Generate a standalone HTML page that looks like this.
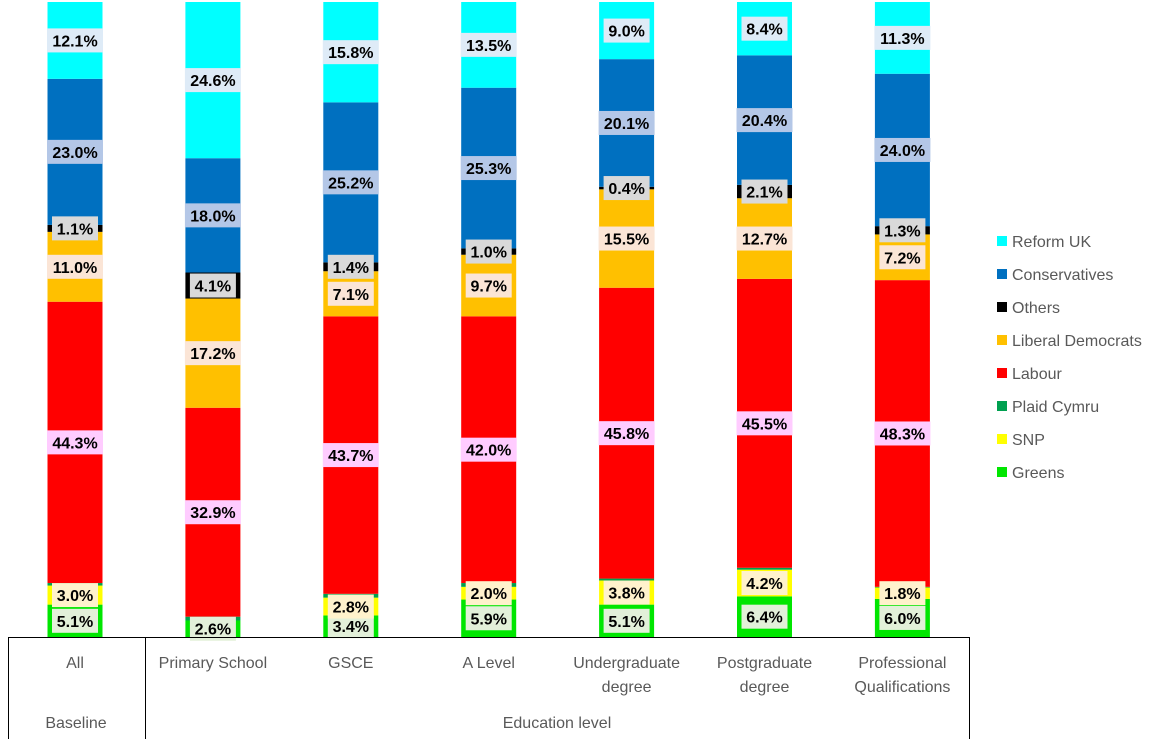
<!DOCTYPE html>
<html><head><meta charset="utf-8"><style>
body{margin:0;background:#fff;}
svg text{font-family:"Liberation Sans",Arial,sans-serif;}
</style></head><body>
<svg id="c" width="1161" height="739" xmlns="http://www.w3.org/2000/svg">
<g id="bars"></g>
<g id="axis">
<line x1="8" y1="637.5" x2="969" y2="637.5" stroke="#000"/>
<line x1="8.5" y1="637" x2="8.5" y2="739" stroke="#000"/>
<line x1="145.5" y1="637" x2="145.5" y2="739" stroke="#000"/>
<line x1="969.5" y1="637" x2="969.5" y2="739" stroke="#000"/>
<text x="76" y="728" font-size="16" fill="#595959" text-anchor="middle">Baseline</text>
<text x="557" y="728" font-size="16" fill="#595959" text-anchor="middle">Education level</text>
</g>
<g id="legend"></g>
</svg>
<script>
const categories=[["All"],["Primary School"],["GSCE"],["A Level"],["Undergraduate","degree"],["Postgraduate","degree"],["Professional","Qualifications"]];
const seriesNames=["Greens","SNP","Plaid Cymru","Labour","Liberal Democrats","Others","Conservatives","Reform UK"];
const greens=[5.1,2.6,3.4,5.9,5.1,6.4,6.0];
const snp=[3.0,0,2.8,2.0,3.8,4.2,1.8];
const plaid=[0.4,0.6,0.6,0.6,0.3,0.3,0.1];
const labour=[44.3,32.9,43.7,42.0,45.8,45.5,48.3];
const libdem=[11.0,17.2,7.1,9.7,15.5,12.7,7.2];
const others=[1.1,4.1,1.4,1.0,0.4,2.1,1.3];
const conservatives=[23.0,18.0,25.2,25.3,20.1,20.4,24.0];
const reform=[12.1,24.6,15.8,13.5,9.0,8.4,11.3];
const series=[greens,snp,plaid,labour,libdem,others,conservatives,reform];
const colors=["#00e600","#ffff00","#00a050","#ff0000","#ffc000","#000000","#0070c0","#00ffff"];
const labelBg=["#e2f0d9","#fff2cc",null,"#ffccff","#fbe5d6","#d9d9d9","#b4c7e7","#deebf7"];
const showLabel=[true,true,false,true,true,true,true,true];
const NS="http://www.w3.org/2000/svg";
const y0=637,pxPer=6.35,x0=75,step=137.9,bw=55;
const xScale=i=>x0+i*step;
const yScale=v=>y0-v*pxPer;
const gb=document.getElementById('bars');
function mk(t,a){const e=document.createElementNS(NS,t);for(const k in a)e.setAttribute(k,a[k]);return e;}
categories.forEach((cat,i)=>{
  let cum=0;const cx=xScale(i);
  const labels=[];
  series.forEach((s,j)=>{
    const v=s[i];const yt=yScale(cum+v),yb=yScale(cum);
    if(v>0){
      const r=mk('rect',{x:cx-bw/2,y:yt,width:bw,height:yb-yt,fill:colors[j]});
      
      
      gb.appendChild(r);
      if(showLabel[j]) labels.push([j,v,(yt+yb)/2]);
    }
    cum+=v;
  });
  labels.forEach(([j,v,cy])=>{
    const txt=v.toFixed(1)+'%';
    const w=txt.length>4?56:46;
    const bg=mk('rect',{x:cx-w/2,y:cy-12,width:w,height:24,fill:labelBg[j]});
    
    
    gb.appendChild(bg);
    const t=mk('text',{x:cx,y:cy+6,'font-size':16,'font-weight':'bold','text-anchor':'middle',fill:'#000'});
    t.textContent=txt;
    
    
    gb.appendChild(t);
  });
  const ax=document.getElementById('axis');
  cat.forEach((ln,k)=>{
    const t=mk('text',{x:cx,y:668+k*24,'font-size':16,fill:'#595959','text-anchor':'middle'});
    t.textContent=ln;
    
    
    ax.appendChild(t);
  });
});
const lg=document.getElementById('legend');
const legOrder=[7,6,5,4,3,2,1,0];
legOrder.forEach((j,k)=>{
  const y=241+k*33;
  const r=mk('rect',{x:997,y:y-5,width:10,height:10,fill:colors[j]});
  
  
  lg.appendChild(r);
  const t=mk('text',{x:1012,y:y+6,'font-size':16,fill:'#595959'});
  t.textContent=seriesNames[j]==="Reform UK"?"Reform UK":seriesNames[j];
  
  
  lg.appendChild(t);
});
</script>
</body></html>
